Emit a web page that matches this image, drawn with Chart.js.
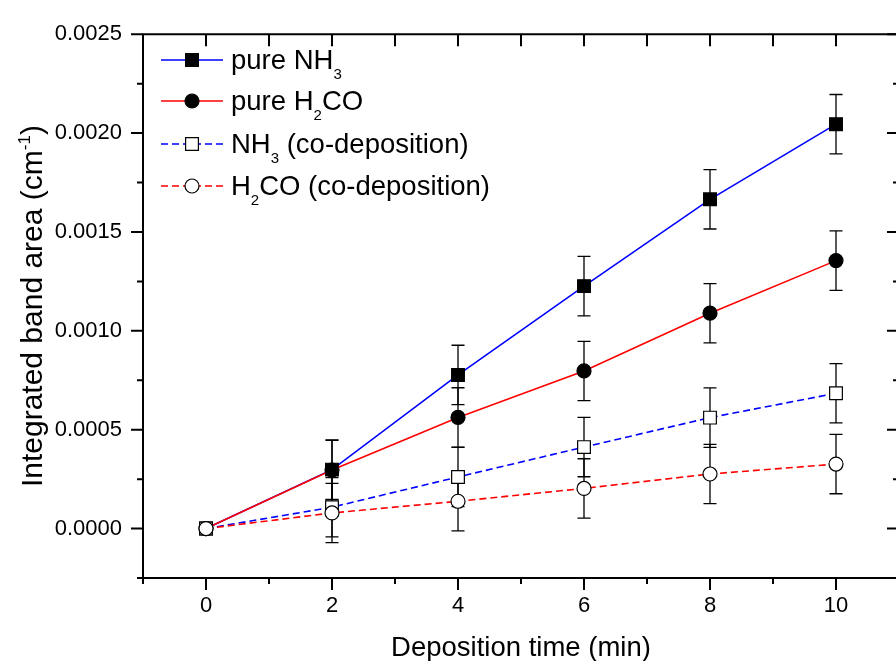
<!DOCTYPE html>
<html><head><meta charset="utf-8">
<script src="https://cdn.jsdelivr.net/npm/chart.js@4/dist/chart.umd.min.js"></script>
<style>
html,body{margin:0;padding:0;background:#fff;overflow:hidden;}
#wrap{position:relative;width:910px;height:661px;}
</style></head><body>
<div id="wrap"><canvas id="c"></canvas></div>
<script>
// ---- data ----
const depositionTime = [0, 2, 4, 6, 8, 10];
const pureNH3   = [0, 0.000298, 0.000777, 0.001226, 0.001665, 0.002045];
const pureH2CO  = [0, 0.000296, 0.000562, 0.000797, 0.001089, 0.001355];
const coNH3     = [0, 0.000108, 0.000261, 0.000412, 0.000561, 0.000684];
const coH2CO    = [0, 0.000079, 0.000138, 0.000203, 0.000276, 0.000326];
const errPureNH3  = [0, 0.00015, 0.00015, 0.00015, 0.00015, 0.00015];
const errPureH2CO = [0, 0.00015, 0.00015, 0.00015, 0.00015, 0.00015];
const errCoNH3    = [0, 0.00015, 0.00015, 0.00015, 0.00015, 0.00015];
const errCoH2CO   = [0, 0.00015, 0.00015, 0.00015, 0.00015, 0.00015];
const xTickValues = [0, 2, 4, 6, 8, 10];
const xMinorValues = [-1, 1, 3, 5, 7, 9, 11];
const yTickValues = [0, 0.0005, 0.0010, 0.0015, 0.0020, 0.0025];
const yMinorValues = [-0.00025, 0.00025, 0.00075, 0.00125, 0.00175, 0.00225];
const legendLabels = [
  [{t:'pure NH'},{t:'3',sub:true}],
  [{t:'pure H'},{t:'2',sub:true},{t:'CO'}],
  [{t:'NH'},{t:'3',sub:true},{t:' (co-deposition)'}],
  [{t:'H'},{t:'2',sub:true},{t:'CO (co-deposition)'}]
];
const xTitle = [{t:'Deposition time (min)'}];
const yTitle = [{t:'Integrated band area (cm'},{t:'-1',sup:true},{t:')'}];

const FONT = 'Liberation Sans, Arial, sans-serif';
const seriesStyle = [
  {color:'#0000ff', dash:[], style:'rect', fill:'#000000'},
  {color:'#ff0000', dash:[], style:'circle', fill:'#000000'},
  {color:'#0000ff', dash:[7,4], style:'rect', fill:'#ffffff'},
  {color:'#ff0000', dash:[7,4], style:'circle', fill:'#ffffff'}
];
const seriesVals = [pureNH3, pureH2CO, coNH3, coH2CO];
const seriesErr = [errPureNH3, errPureH2CO, errCoNH3, errCoH2CO];

function richWidth(ctx, parts, size){
  let w = 0;
  for (const p of parts){
    const s = (p.sub||p.sup) ? Math.round(size*0.55) : size;
    ctx.font = s + 'px ' + FONT;
    w += ctx.measureText(p.t).width;
  }
  return w;
}
function drawRich(ctx, parts, x, y, size){
  let cx = x;
  ctx.textAlign = 'left';
  ctx.textBaseline = 'alphabetic';
  for (const p of parts){
    const s = (p.sub||p.sup) ? Math.round(size*0.55) : size;
    ctx.font = s + 'px ' + FONT;
    const dy = p.sub ? size*0.38 : (p.sup ? -size*0.40 : 0);
    ctx.fillText(p.t, cx, y + dy);
    cx += ctx.measureText(p.t).width;
  }
}
function marker(ctx, style, x, y, fill){
  ctx.save();
  ctx.setLineDash([]);
  ctx.lineWidth = 1.2;
  ctx.strokeStyle = '#000';
  ctx.fillStyle = fill;
  ctx.beginPath();
  if (style === 'rect'){ ctx.rect(x-6.4, y-6.4, 12.8, 12.8); }
  else { ctx.arc(x, y, 7, 0, Math.PI*2); }
  ctx.fill(); ctx.stroke();
  ctx.restore();
}

const framePlugin = {
  id: 'frame',
  beforeDatasetsDraw(chart){
    const ctx = chart.ctx, xs = chart.scales.x, ys = chart.scales.y;
    ctx.save();
    ctx.strokeStyle = '#000';
    ctx.lineWidth = 1.3;
    seriesVals.forEach((vals, si) => {
      vals.forEach((v, i) => {
        const e = seriesErr[si][i];
        if (!e) return;
        const px = xs.getPixelForValue(depositionTime[i]);
        const pt = ys.getPixelForValue(v + e);
        const pb = ys.getPixelForValue(v - e);
        ctx.beginPath();
        ctx.moveTo(px, pt); ctx.lineTo(px, pb);
        ctx.moveTo(px-6.5, pt); ctx.lineTo(px+6.5, pt);
        ctx.moveTo(px-6.5, pb); ctx.lineTo(px+6.5, pb);
        ctx.stroke();
      });
    });
    ctx.restore();
  },
  afterDatasetsDraw(chart){
    const ctx = chart.ctx, a = chart.chartArea, xs = chart.scales.x, ys = chart.scales.y;
    ctx.save();
    ctx.strokeStyle = '#000';
    ctx.lineWidth = 2;
    ctx.beginPath();
    ctx.rect(a.left, a.top, a.right - a.left, a.bottom - a.top);
    ctx.stroke();
    ctx.beginPath();
    xTickValues.forEach(v => { const p = xs.getPixelForValue(v); ctx.moveTo(p, a.bottom); ctx.lineTo(p, a.bottom + 12); });
    xMinorValues.forEach(v => { const p = xs.getPixelForValue(v); ctx.moveTo(p, a.bottom); ctx.lineTo(p, a.bottom + 6); });
    xTickValues.concat(xMinorValues).forEach(v => { const p = xs.getPixelForValue(v); ctx.moveTo(p, a.top); ctx.lineTo(p, a.top + 12); });
    yTickValues.forEach(v => { const p = ys.getPixelForValue(v); ctx.moveTo(a.left, p); ctx.lineTo(a.left - 12, p); });
    yMinorValues.forEach(v => { const p = ys.getPixelForValue(v); ctx.moveTo(a.left, p); ctx.lineTo(a.left - 6, p); });
    yTickValues.forEach(v => { const p = ys.getPixelForValue(v); ctx.moveTo(a.right, p); ctx.lineTo(a.right - 12, p); });
    yMinorValues.forEach(v => { const p = ys.getPixelForValue(v); ctx.moveTo(a.right, p); ctx.lineTo(a.right - 6, p); });
    ctx.stroke();
    ctx.restore();
  },
  afterDraw(chart){
    const ctx = chart.ctx, a = chart.chartArea;
    ctx.save();
    ctx.fillStyle = '#000';
    const rows = [60, 101, 144, 186];
    const LS = 27.5;
    rows.forEach((ry, i) => {
      const st = seriesStyle[i];
      ctx.save();
      ctx.strokeStyle = st.color;
      ctx.lineWidth = 1.5;
      ctx.setLineDash(st.dash);
      ctx.beginPath();
      ctx.moveTo(161, ry); ctx.lineTo(223, ry);
      ctx.stroke();
      ctx.restore();
      marker(ctx, st.style, 192, ry, st.fill);
      ctx.fillStyle = '#000';
      drawRich(ctx, legendLabels[i], 231, ry + 9, LS);
    });
    const TS = 27.5;
    const cxMid = (a.left + a.right) / 2;
    const wx = richWidth(ctx, xTitle, TS);
    drawRich(ctx, xTitle, cxMid - wx/2, 656, TS);
    const YS = 30;
    const cyMid = (a.top + a.bottom) / 2;
    const wy = richWidth(ctx, yTitle, YS);
    ctx.save();
    ctx.translate(42, cyMid);
    ctx.rotate(-Math.PI/2);
    drawRich(ctx, yTitle, -wy/2, 0, YS);
    ctx.restore();
    ctx.restore();
  }
};

const datasets = seriesVals.map((vals, si) => ({
  label: 'series' + si,
  data: depositionTime.map((t, i) => ({x: t, y: vals[i]})),
  borderColor: seriesStyle[si].color,
  borderWidth: 1.6,
  borderDash: seriesStyle[si].dash,
  showLine: true,
  fill: false,
  tension: 0,
  pointStyle: seriesStyle[si].style,
  pointRadius: seriesStyle[si].style === 'rect' ? 9 : 7,
  pointBackgroundColor: seriesStyle[si].fill,
  pointBorderColor: '#000',
  pointBorderWidth: 1.2,
  order: 3 - si
}));

new Chart(document.getElementById('c'), {
  type: 'scatter',
  data: { datasets },
  options: {
    responsive: true,
    maintainAspectRatio: false,
    animation: false,
    events: [],
    layout: { padding: { left: 0, top: 20, right: 11, bottom: 0 } },
    plugins: { legend: { display: false }, tooltip: { enabled: false }, title: { display: false } },
    scales: {
      x: {
        type: 'linear', min: -1, max: 11,
        afterBuildTicks: s => { s.ticks = xTickValues.map(v => ({value: v})); },
        afterFit: s => { s.height = 83; },
        grid: { display: false, drawTicks: false },
        border: { display: false },
        ticks: { font: { family: FONT, size: 22 }, color: '#000', padding: 15, maxRotation: 0, autoSkip: false,
                 callback: v => String(v) }
      },
      y: {
        type: 'linear', min: -0.00025, max: 0.0025,
        afterBuildTicks: s => { s.ticks = yTickValues.map(v => ({value: v})); },
        afterFit: s => { s.width = 143; },
        grid: { display: false, drawTicks: false },
        border: { display: false },
        ticks: { font: { family: FONT, size: 22 }, color: '#000', padding: 21, autoSkip: false,
                 callback: v => Number(v).toFixed(4) }
      }
    }
  },
  plugins: [framePlugin]
});
</script>
</body></html>
